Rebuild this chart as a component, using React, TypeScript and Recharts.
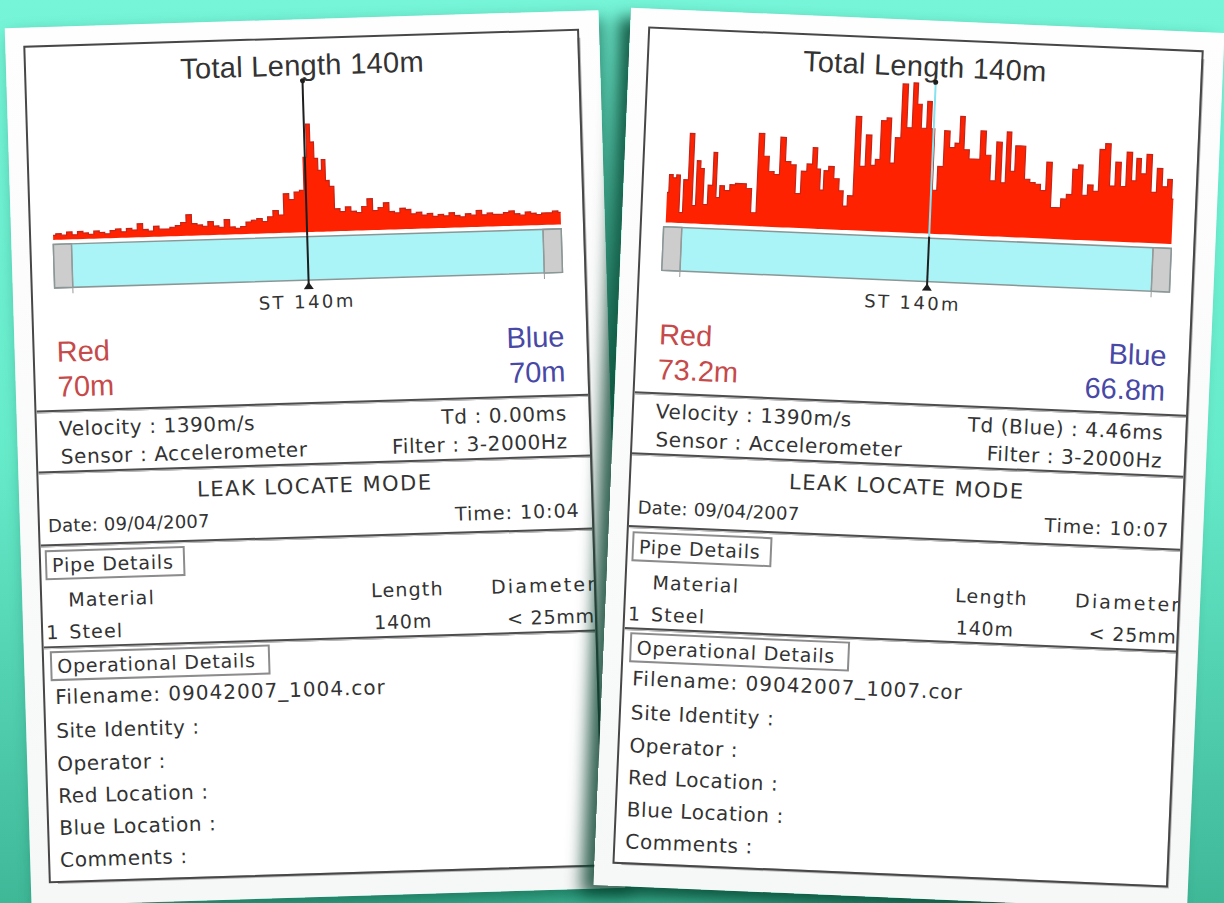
import React from 'react'
import {
  ComposedChart,
  Area,
  XAxis,
  YAxis,
  ReferenceArea,
  ReferenceLine,
  ReferenceDot,
} from 'recharts'

const leftDist = [
  0, 1.5, 3, 4.5, 6, 7.5, 9, 10.5, 12, 13.5,
  15, 16.5, 18, 19.5, 21, 22.5, 24, 25.5, 27, 28.5,
  30, 31.5, 33, 34.5, 36, 37.5, 39, 40.5, 42, 43.5,
  45, 46.5, 48, 49.5, 51, 52.5, 54, 55.5, 57, 58.5,
  60, 61.5, 63, 64.5, 66, 67.5, 69,
  70, 71, 72, 73, 74, 75, 76, 77,
  78.5, 80, 81.5, 83, 84.5, 86, 87.5, 89, 90.5, 92,
  93.5, 95, 96.5, 98, 99.5, 101, 102.5, 104, 105.5, 107,
  108.5, 110, 111.5, 113, 114.5, 116, 117.5, 119, 120.5, 122,
  123.5, 125, 126.5, 128, 129.5, 131, 132.5, 134, 135.5, 137,
  138.5, 140,
]
const leftLevel = [
  3, 4, 3, 5, 3, 5, 4, 3, 5, 4,
  3, 5, 6, 4, 6, 5, 9, 5, 4, 7,
  5, 5, 6, 7, 9, 14, 8, 7, 6, 9,
  6, 5, 10, 5, 4, 5, 8, 9, 10, 8,
  11, 15, 12, 26, 22, 27, 28,
  50, 72, 60, 49, 41, 48, 34, 30,
  15, 13, 16, 13, 12, 16, 21, 13, 15, 18,
  12, 11, 14, 13, 10, 11, 9, 10, 8, 9,
  8, 10, 8, 7, 9, 8, 11, 8, 9, 8,
  8, 9, 10, 8, 7, 9, 8, 7, 8, 8,
  9, 8,
]

const rightDist = [
  0.5, 1.5, 2.5, 3.5, 4.5, 5.5, 7, 8, 9, 10,
  11, 12.5, 13.5, 14.5, 15.5, 17, 18.5, 20, 21.5, 23,
  24.5, 26, 27.5, 29, 30.5, 32, 33.5, 35, 36.5, 38,
  39.5, 41, 42, 43, 44, 45.5, 47, 48.5, 49.5, 51,
  52.5, 54, 55.5, 57, 58, 59.5, 61, 62, 63.5, 65,
  66.5, 68, 69, 70.5, 72, 73, 74, 75.5, 77, 78.5,
  80, 81, 82.5, 84, 85.5, 87, 88.5, 90, 91.5, 93,
  94, 95.5, 96.5, 98, 99.5, 101, 102.5, 104, 105.5, 107,
  108, 110, 111, 113, 114, 115.5, 117, 118.5, 120, 121.5,
  123, 124.5, 126, 127.5, 129, 130, 131.5, 133, 134.5, 136,
  137.5, 139, 140,
]
const rightLevel = [
  20, 32, 30, 32, 7, 29, 60, 12, 42, 37,
  13, 26, 48, 18, 26, 23, 27, 28, 28, 25,
  9, 62, 47, 37, 35, 60, 44, 42, 23, 38,
  43, 54, 40, 26, 39, 42, 34, 26, 16, 23,
  76, 43, 64, 44, 48, 74, 76, 46, 63, 99,
  70, 100, 86, 70, 88, 70, 29, 45, 69, 58,
  61, 79, 57, 51, 51, 70, 54, 37, 63, 36,
  70, 44, 61, 61, 39, 37, 36, 32, 51, 21,
  21, 27, 30, 47, 50, 30, 37, 33, 61, 65,
  37, 53, 37, 60, 41, 56, 46, 59, 34, 50,
  38, 43, 30,
]

const pipeLength = 140
const capLength = 5

const W = 552
const H = 834
const titleFont = '"Liberation Sans", Arial, sans-serif'
const infoFont = '"DejaVu Sans", Verdana, sans-serif'
const ink = '#333333'

type TProps = {
  x: number
  y: number
  size?: number
  align?: 'left' | 'right' | 'center'
  color?: string
  font?: string
  spacing?: number
  children: React.ReactNode
}

function T({ x, y, size = 20, align = 'left', color = ink, font = infoFont, spacing = 0.6, children }: TProps) {
  const style: React.CSSProperties = {
    position: 'absolute',
    top: y - size * 0.6,
    fontSize: size,
    lineHeight: `${size * 1.2}px`,
    fontFamily: font,
    color,
    letterSpacing: spacing,
    whiteSpace: 'nowrap',
  }
  if (align === 'left') style.left = x
  else if (align === 'right') style.right = W - x
  else {
    style.left = x
    style.transform = 'translateX(-50%)'
  }
  return <div style={style}>{children}</div>
}

function Rule({ y }: { y: number }) {
  return (
    <div
      style={{
        position: 'absolute',
        left: 0,
        width: W,
        top: y - 1,
        height: 2,
        background: '#4d4d4d',
        borderBottom: '1px solid #cfcfcf',
      }}
    />
  )
}

function Tab({ x, y, w, label }: { x: number; y: number; w: number; label: string }) {
  return (
    <div
      style={{
        position: 'absolute',
        left: x,
        top: y,
        width: w,
        height: 30,
        boxSizing: 'border-box',
        border: '2px solid #8c8c8c',
        background: '#fff',
        fontFamily: infoFont,
        fontSize: 19,
        lineHeight: '26px',
        paddingLeft: 5,
        letterSpacing: 0.8,
        color: ink,
        whiteSpace: 'nowrap',
      }}
    >
      {label}
    </div>
  )
}

const upTriangle = (props: any) => {
  const { cx, cy } = props
  return <polygon points={`${cx - 5},${cy + 3} ${cx + 5},${cy + 3} ${cx},${cy - 4}`} fill="#1e1e1e" />
}

type CardProps = {
  dist: number[]
  level: number[]
  marker: number
  markerTop: string
  red: string
  blue: string
  td: string
  time: string
  file: string
}

function Card({ dist, level, marker, markerTop, red, blue, td, time, file }: CardProps) {
  const rows = dist.map((m, i) => ({ m, v: level[i] }))
  return (
    <div style={{ position: 'absolute', left: 0, top: 0, width: W, height: H, overflow: 'hidden' }}>
      <T x={276} y={26} size={29} align="center" font={titleFont} spacing={0.3}>
        Total Length 140m
      </T>
      <div style={{ position: 'absolute', left: 0, top: 0 }}>
        <ComposedChart width={W} height={270} data={rows} margin={{ top: 40, right: 22, bottom: 20, left: 22 }}>
          <XAxis type="number" dataKey="m" domain={[0, pipeLength]} hide />
          <YAxis type="number" domain={[-38, 102]} hide allowDataOverflow />
          <ReferenceArea
            x1={0}
            x2={pipeLength}
            y1={-32}
            y2={-3}
            fill="#aaf4f7"
            fillOpacity={1}
            stroke="#8b9797"
            strokeWidth={1.5}
            ifOverflow="visible"
          />
          <ReferenceArea x1={0} x2={capLength} y1={-32} y2={-3} fill="#cdcdcd" fillOpacity={1} stroke="#8b9797" strokeWidth={1.5} ifOverflow="visible" />
          <ReferenceArea
            x1={pipeLength - capLength}
            x2={pipeLength}
            y1={-32}
            y2={-3}
            fill="#cdcdcd"
            fillOpacity={1}
            stroke="#8b9797"
            strokeWidth={1.5}
            ifOverflow="visible"
          />
          <ReferenceLine segment={[{ x: capLength, y: -3 }, { x: capLength, y: -36 }]} stroke="#9a9a9a" strokeWidth={1} />
          <ReferenceLine
            segment={[{ x: pipeLength - capLength, y: -3 }, { x: pipeLength - capLength, y: -36 }]}
            stroke="#9a9a9a"
            strokeWidth={1}
          />
          <ReferenceLine segment={[{ x: marker, y: 101 }, { x: marker, y: -2 }]} stroke={markerTop} strokeWidth={2} />
          <Area
            type="step"
            dataKey="v"
            baseValue={0}
            fill="#ff2200"
            fillOpacity={1}
            stroke="#c42418"
            strokeWidth={1.2}
            dot={false}
            activeDot={false}
            isAnimationActive={false}
          />
          <ReferenceLine segment={[{ x: marker, y: -2 }, { x: marker, y: -36 }]} stroke="#1e1e1e" strokeWidth={2} />
          <ReferenceDot x={marker} y={-36} r={4} shape={upTriangle} />
          <ReferenceDot x={marker} y={101} r={2.5} fill="#1e1e1e" stroke="none" />
        </ComposedChart>
      </div>
      <T x={274} y={263} size={18} align="center" spacing={2.4}>
        ST 140m
      </T>

      <T x={22} y={305} size={29} font={titleFont} color="#c64a4a" spacing={0}>
        Red
      </T>
      <T x={22} y={340} size={29} font={titleFont} color="#c64a4a" spacing={0}>
        {red}
      </T>
      <T x={530} y={305} size={29} font={titleFont} color="#4848a6" align="right" spacing={0}>
        Blue
      </T>
      <T x={530} y={340} size={29} font={titleFont} color="#4848a6" align="right" spacing={0}>
        {blue}
      </T>

      <Rule y={364} />
      <T x={22} y={382}>Velocity : 1390m/s</T>
      <T x={530} y={382} align="right">{td}</T>
      <T x={23} y={410}>Sensor : Accelerometer</T>
      <T x={530} y={410} align="right">Filter : 3-2000Hz</T>

      <Rule y={425} />
      <T x={276} y={448} size={21} align="center" spacing={1.5}>LEAK LOCATE MODE</T>
      <T x={8} y={479} size={18} spacing={0.2}>Date: 09/04/2007</T>
      <T x={540} y={479} size={19} align="right" spacing={1}>{time}</T>

      <Rule y={498} />
      <Tab x={4} y={503} w={140} label="Pipe Details" />
      <T x={26} y={553} size={19} spacing={1.2}>Material</T>
      <T x={329} y={553} size={19} spacing={1.2}>Length</T>
      <T x={449} y={553} size={19} spacing={2.2}>Diameter</T>
      <T x={3} y={585} size={19} spacing={1.2}>1</T>
      <T x={26} y={585} size={19} spacing={1.2}>Steel</T>
      <T x={331} y={585} size={19} spacing={0.8}>140m</T>
      <T x={552} y={585} size={19} align="right" spacing={0.8}>&lt; 25mm</T>

      <Rule y={600} />
      <Tab x={6} y={604} w={220} label="Operational Details" />
      <T x={10} y={650} spacing={1}>{file}</T>
      <T x={10} y={684} spacing={0.6}>Site Identity :</T>
      <T x={10} y={717} spacing={0.6}>Operator :</T>
      <T x={10} y={749} spacing={0.6}>Red Location :</T>
      <T x={10} y={781} spacing={0.6}>Blue Location :</T>
      <T x={10} y={813} spacing={0.6}>Comments :</T>
    </div>
  )
}

function Paper({ left, top, angle, shadow, children }: { left: number; top: number; angle: number; shadow: string; children: React.ReactNode }) {
  return (
    <div
      style={{
        position: 'absolute',
        left,
        top,
        width: W + 42,
        height: H + 44,
        background: 'linear-gradient(180deg, #fefefe 0%, #f6f7f7 100%)',
        transform: `rotate(${angle}deg)`,
        boxShadow: shadow,
      }}
    >
      <div
        style={{
          position: 'absolute',
          left: 20,
          top: 20,
          width: W,
          height: H,
          background: '#fff',
          outline: '2px solid #474747',
          boxShadow: '5px 5px 0 -2px #b8b8b8',
        }}
      >
        {children}
      </div>
    </div>
  )
}

export default function App() {
  return (
    <div
      style={{
        position: 'fixed',
        left: 0,
        top: 0,
        width: 1224,
        height: 903,
        overflow: 'hidden',
        background: 'linear-gradient(180deg, #76f5d8 0%, #66ebca 50%, #3fb898 100%)',
      }}
    >
      <Paper left={18} top={19} angle={-1.75} shadow="6px 8px 16px rgba(0, 70, 50, 0.55)">
        <Card
          dist={leftDist}
          level={leftLevel}
          marker={70}
          markerTop="#1e1e1e"
          red="70m"
          blue="70m"
          td="Td : 0.00ms"
          time="Time: 10:04"
          file="Filename: 09042007_1004.cor"
        />
      </Paper>
      <Paper left={612} top={20} angle={2.45} shadow="-12px 10px 16px rgba(0, 60, 40, 0.8)">
        <Card
          dist={rightDist}
          level={rightLevel}
          marker={73.2}
          markerTop="#86e2ef"
          red="73.2m"
          blue="66.8m"
          td="Td (Blue) : 4.46ms"
          time="Time: 10:07"
          file="Filename: 09042007_1007.cor"
        />
      </Paper>
    </div>
  )
}
